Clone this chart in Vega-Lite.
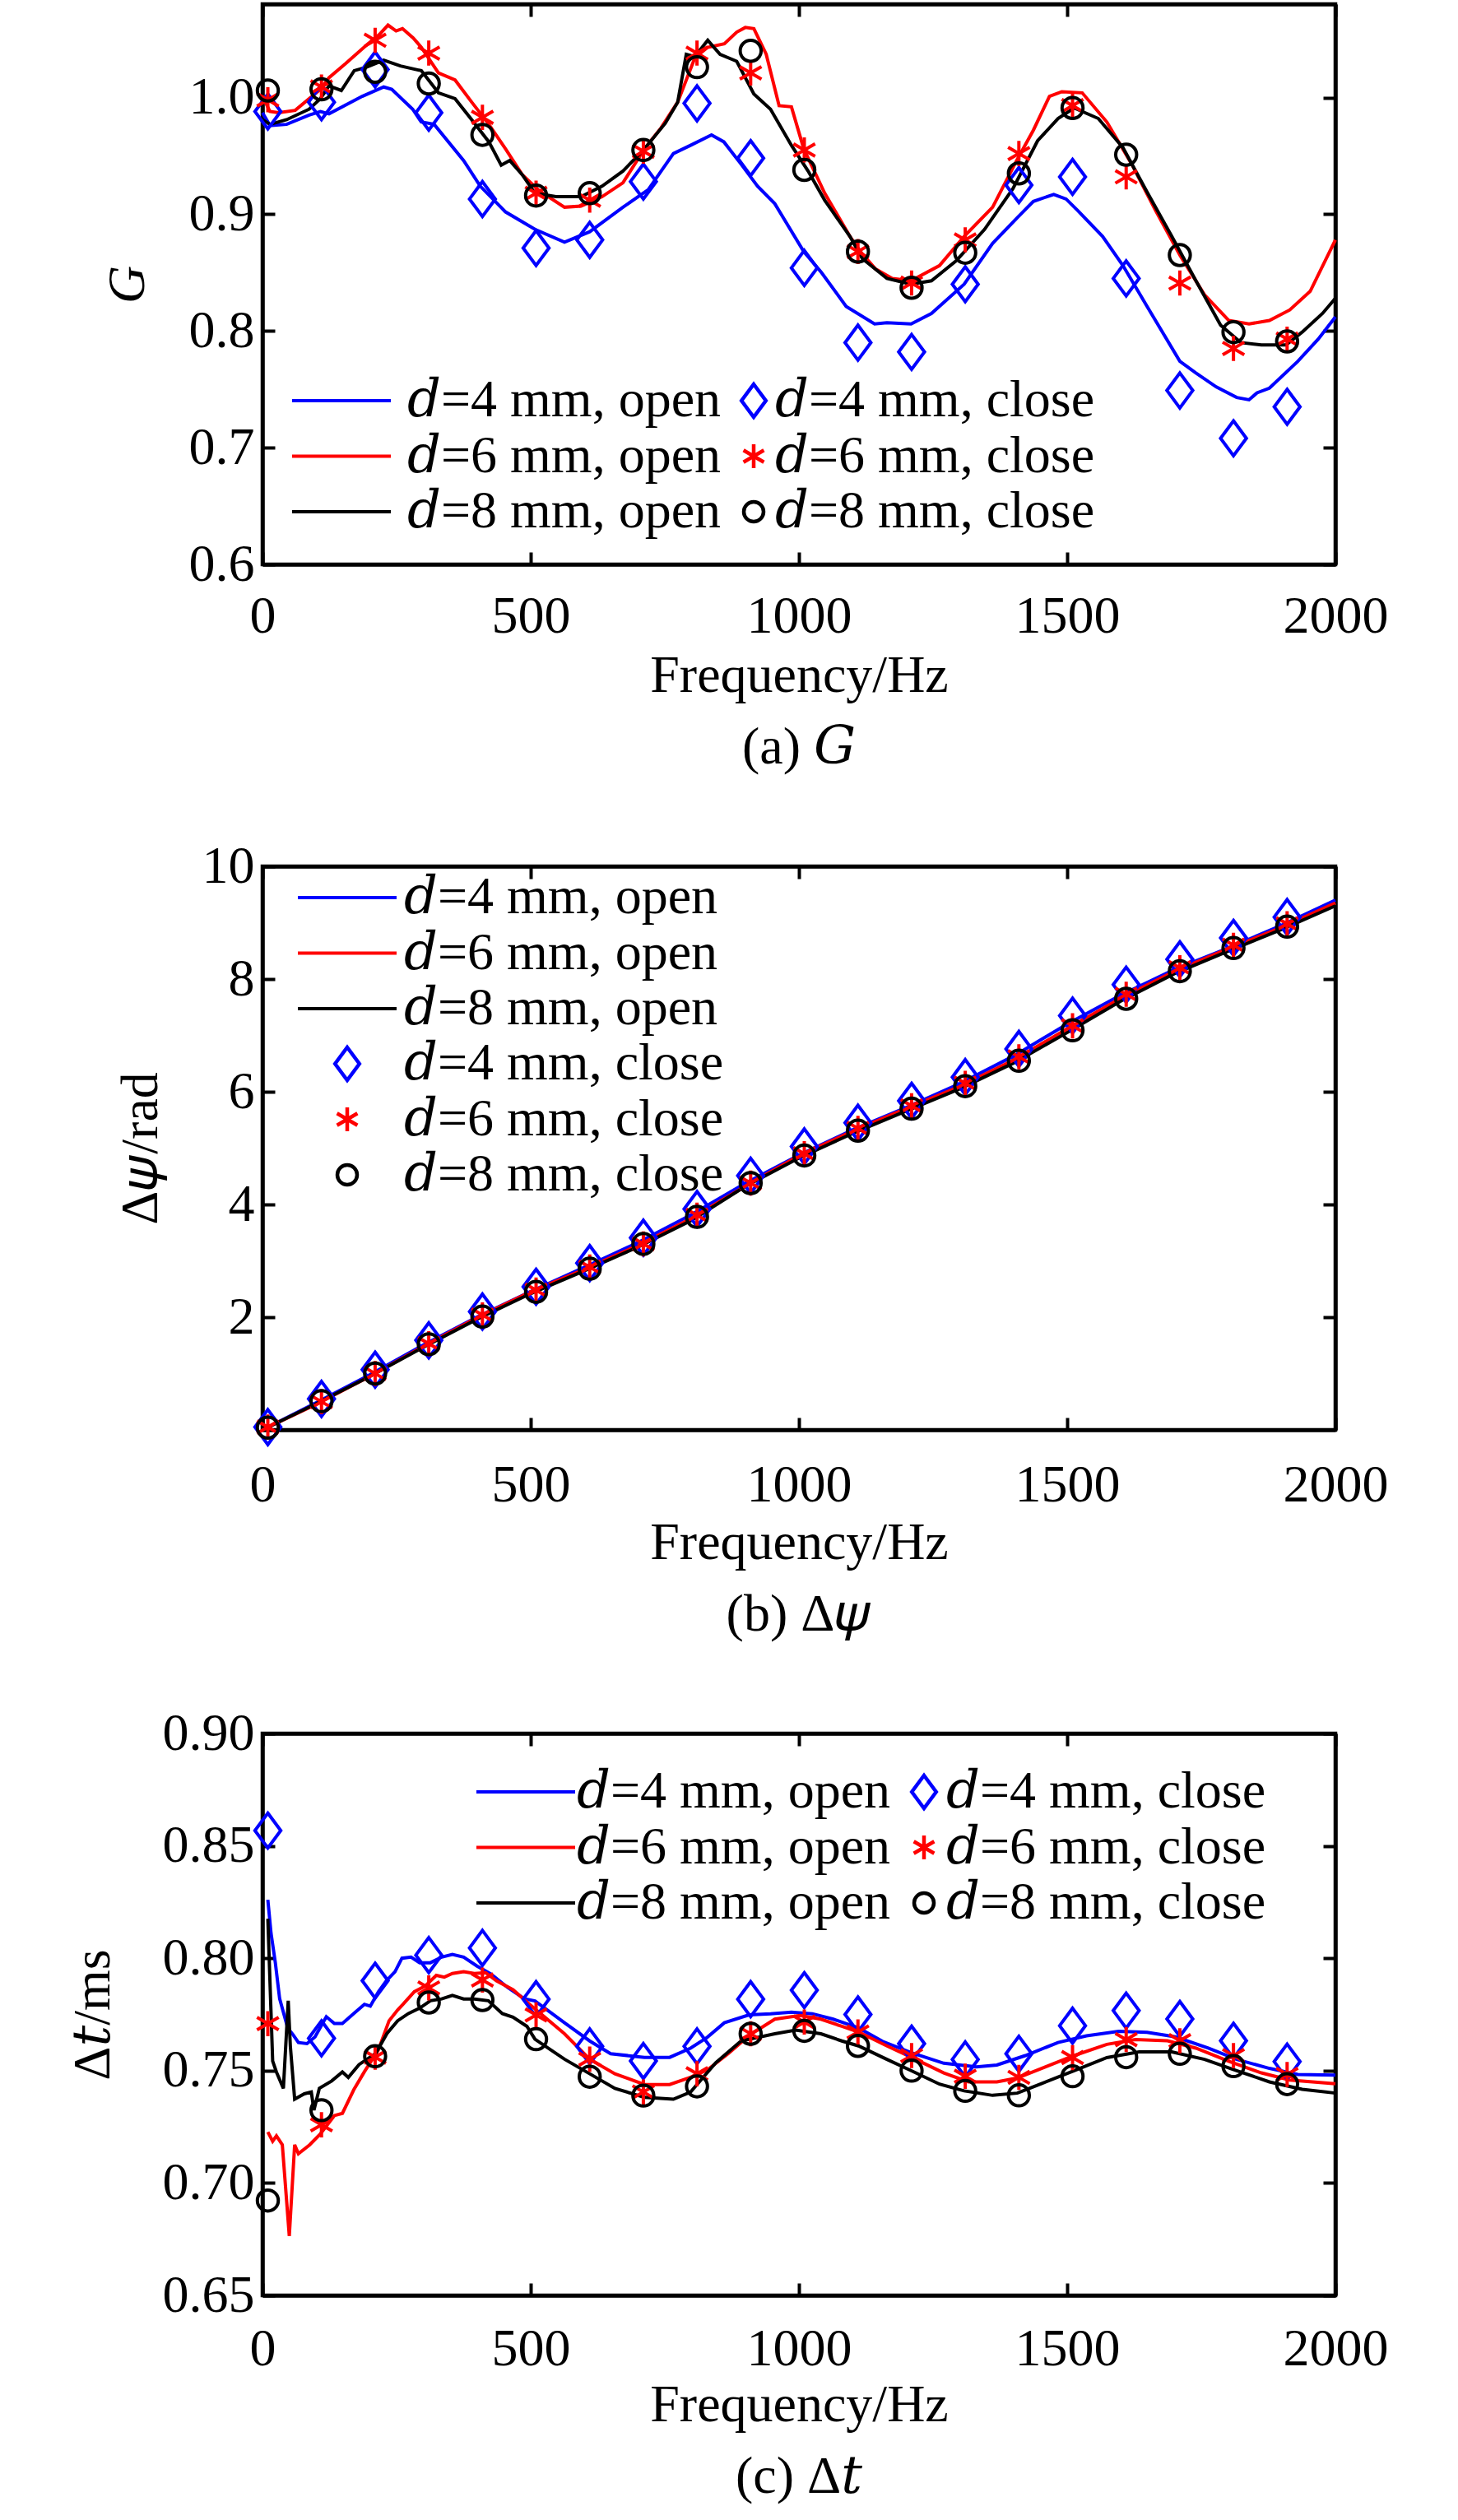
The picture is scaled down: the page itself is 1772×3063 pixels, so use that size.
{
  "$schema": "https://vega.github.io/schema/vega-lite/v6.json",
  "background": "white",
  "padding": {"left": 78, "top": 0, "right": 10, "bottom": 10},
  "config": {
    "font": "Liberation Serif, DejaVu Serif",
    "view": {"stroke": "black", "strokeWidth": 4.5},
    "axis": {
      "labelFont": "Liberation Serif, DejaVu Serif", "labelFontSize": 64, "labelColor": "black",
      "titleFont": "Liberation Serif, DejaVu Serif", "titleFontSize": 64, "titleFontWeight": "normal", "titleColor": "black",
      "domainColor": "black", "domainWidth": 4.5, "tickColor": "black", "tickWidth": 4, "tickSize": -15,
      "grid": false, "labelFlush": false, "labelOverlap": false, "labelBound": false
    },
    "legend": {
      "labelFont": "Liberation Serif, DejaVu Serif", "labelFontSize": 64, "labelColor": "black",
      "padding": 0, "rowPadding": 3.5, "orient": "none", "labelLimit": 0
    },
    "title": {"font": "Liberation Serif, DejaVu Serif", "fontSize": 64, "fontWeight": "normal", "color": "black"},
    "concat": {"spacing": 74}
  },
  "resolve": {"scale": {"stroke": "independent", "color": "independent", "shape": "independent", "strokeWidth": "independent", "y": "independent"}},
  "datasets": {
    "a_lines": [
      {"s":"4o","f":0,"v":0.987},{"s":"4o","f":14,"v":0.976},{"s":"4o","f":45,"v":0.977},{"s":"4o","f":87,"v":0.985},{"s":"4o","f":108,"v":0.988},{"s":"4o","f":124,"v":0.986},{"s":"4o","f":186,"v":1.001},{"s":"4o","f":226,"v":1.009},{"s":"4o","f":241,"v":1.007},{"s":"4o","f":280,"v":0.990},{"s":"4o","f":296,"v":0.979},{"s":"4o","f":320,"v":0.977},{"s":"4o","f":375,"v":0.946},{"s":"4o","f":406,"v":0.924},{"s":"4o","f":453,"v":0.902},{"s":"4o","f":508,"v":0.887},{"s":"4o","f":563,"v":0.876},{"s":"4o","f":610,"v":0.885},{"s":"4o","f":672,"v":0.906},{"s":"4o","f":719,"v":0.921},{"s":"4o","f":766,"v":0.952},{"s":"4o","f":798,"v":0.959},{"s":"4o","f":837,"v":0.968},{"s":"4o","f":860,"v":0.962},{"s":"4o","f":892,"v":0.943},{"s":"4o","f":923,"v":0.924},{"s":"4o","f":955,"v":0.909},{"s":"4o","f":1009,"v":0.868},{"s":"4o","f":1042,"v":0.850},{"s":"4o","f":1088,"v":0.821},{"s":"4o","f":1141,"v":0.806},{"s":"4o","f":1164,"v":0.807},{"s":"4o","f":1209,"v":0.806},{"s":"4o","f":1247,"v":0.815},{"s":"4o","f":1308,"v":0.840},{"s":"4o","f":1361,"v":0.875},{"s":"4o","f":1407,"v":0.897},{"s":"4o","f":1437,"v":0.911},{"s":"4o","f":1475,"v":0.917},{"s":"4o","f":1498,"v":0.913},{"s":"4o","f":1520,"v":0.903},{"s":"4o","f":1566,"v":0.881},{"s":"4o","f":1604,"v":0.856},{"s":"4o","f":1649,"v":0.821},{"s":"4o","f":1710,"v":0.774},{"s":"4o","f":1740,"v":0.764},{"s":"4o","f":1778,"v":0.752},{"s":"4o","f":1816,"v":0.743},{"s":"4o","f":1839,"v":0.741},{"s":"4o","f":1854,"v":0.747},{"s":"4o","f":1877,"v":0.751},{"s":"4o","f":1930,"v":0.774},{"s":"4o","f":1968,"v":0.793},{"s":"4o","f":2000,"v":0.812},
      {"s":"6o","f":0,"v":1.001},{"s":"6o","f":14,"v":0.988},{"s":"6o","f":30,"v":0.987},{"s":"6o","f":61,"v":0.989},{"s":"6o","f":108,"v":1.007},{"s":"6o","f":124,"v":1.017},{"s":"6o","f":155,"v":1.029},{"s":"6o","f":194,"v":1.045},{"s":"6o","f":218,"v":1.054},{"s":"6o","f":234,"v":1.062},{"s":"6o","f":249,"v":1.057},{"s":"6o","f":261,"v":1.059},{"s":"6o","f":281,"v":1.051},{"s":"6o","f":296,"v":1.043},{"s":"6o","f":328,"v":1.021},{"s":"6o","f":359,"v":1.015},{"s":"6o","f":390,"v":0.996},{"s":"6o","f":422,"v":0.977},{"s":"6o","f":453,"v":0.956},{"s":"6o","f":484,"v":0.934},{"s":"6o","f":516,"v":0.920},{"s":"6o","f":563,"v":0.906},{"s":"6o","f":594,"v":0.907},{"s":"6o","f":633,"v":0.915},{"s":"6o","f":672,"v":0.927},{"s":"6o","f":712,"v":0.956},{"s":"6o","f":743,"v":0.974},{"s":"6o","f":774,"v":0.996},{"s":"6o","f":806,"v":1.034},{"s":"6o","f":830,"v":1.043},{"s":"6o","f":861,"v":1.046},{"s":"6o","f":884,"v":1.056},{"s":"6o","f":900,"v":1.060},{"s":"6o","f":916,"v":1.059},{"s":"6o","f":939,"v":1.037},{"s":"6o","f":963,"v":0.993},{"s":"6o","f":986,"v":0.992},{"s":"6o","f":1009,"v":0.956},{"s":"6o","f":1048,"v":0.918},{"s":"6o","f":1095,"v":0.881},{"s":"6o","f":1118,"v":0.866},{"s":"6o","f":1143,"v":0.853},{"s":"6o","f":1174,"v":0.845},{"s":"6o","f":1209,"v":0.843},{"s":"6o","f":1262,"v":0.856},{"s":"6o","f":1308,"v":0.881},{"s":"6o","f":1361,"v":0.906},{"s":"6o","f":1407,"v":0.947},{"s":"6o","f":1437,"v":0.972},{"s":"6o","f":1467,"v":1.001},{"s":"6o","f":1490,"v":1.005},{"s":"6o","f":1528,"v":1.004},{"s":"6o","f":1574,"v":0.979},{"s":"6o","f":1619,"v":0.944},{"s":"6o","f":1665,"v":0.903},{"s":"6o","f":1710,"v":0.865},{"s":"6o","f":1756,"v":0.831},{"s":"6o","f":1801,"v":0.809},{"s":"6o","f":1839,"v":0.806},{"s":"6o","f":1877,"v":0.809},{"s":"6o","f":1915,"v":0.818},{"s":"6o","f":1953,"v":0.834},{"s":"6o","f":2000,"v":0.878},
      {"s":"8o","f":0,"v":0.981},{"s":"8o","f":14,"v":0.977},{"s":"8o","f":45,"v":0.981},{"s":"8o","f":87,"v":0.990},{"s":"8o","f":108,"v":0.999},{"s":"8o","f":124,"v":1.010},{"s":"8o","f":147,"v":1.006},{"s":"8o","f":171,"v":1.023},{"s":"8o","f":194,"v":1.026},{"s":"8o","f":226,"v":1.032},{"s":"8o","f":257,"v":1.027},{"s":"8o","f":296,"v":1.023},{"s":"8o","f":328,"v":1.004},{"s":"8o","f":359,"v":0.999},{"s":"8o","f":390,"v":0.981},{"s":"8o","f":422,"v":0.962},{"s":"8o","f":445,"v":0.942},{"s":"8o","f":461,"v":0.946},{"s":"8o","f":484,"v":0.934},{"s":"8o","f":508,"v":0.918},{"s":"8o","f":547,"v":0.915},{"s":"8o","f":594,"v":0.915},{"s":"8o","f":633,"v":0.924},{"s":"8o","f":672,"v":0.937},{"s":"8o","f":712,"v":0.956},{"s":"8o","f":751,"v":0.978},{"s":"8o","f":774,"v":0.996},{"s":"8o","f":790,"v":1.037},{"s":"8o","f":806,"v":1.035},{"s":"8o","f":830,"v":1.049},{"s":"8o","f":853,"v":1.037},{"s":"8o","f":884,"v":1.031},{"s":"8o","f":916,"v":1.003},{"s":"8o","f":947,"v":0.990},{"s":"8o","f":986,"v":0.959},{"s":"8o","f":1017,"v":0.937},{"s":"8o","f":1048,"v":0.912},{"s":"8o","f":1095,"v":0.881},{"s":"8o","f":1118,"v":0.862},{"s":"8o","f":1164,"v":0.845},{"s":"8o","f":1209,"v":0.840},{"s":"8o","f":1247,"v":0.843},{"s":"8o","f":1293,"v":0.860},{"s":"8o","f":1346,"v":0.887},{"s":"8o","f":1399,"v":0.922},{"s":"8o","f":1445,"v":0.963},{"s":"8o","f":1483,"v":0.982},{"s":"8o","f":1513,"v":0.991},{"s":"8o","f":1558,"v":0.982},{"s":"8o","f":1604,"v":0.957},{"s":"8o","f":1649,"v":0.919},{"s":"8o","f":1695,"v":0.881},{"s":"8o","f":1740,"v":0.843},{"s":"8o","f":1786,"v":0.805},{"s":"8o","f":1824,"v":0.790},{"s":"8o","f":1862,"v":0.788},{"s":"8o","f":1908,"v":0.788},{"s":"8o","f":1938,"v":0.799},{"s":"8o","f":1976,"v":0.815},{"s":"8o","f":2000,"v":0.828}
    ],
    "a_pts": [
      {"d":"4c","f":10,"v":0.988},{"d":"4c","f":110,"v":0.996},{"d":"4c","f":210,"v":1.024},{"d":"4c","f":310,"v":0.987},{"d":"4c","f":410,"v":0.913},{"d":"4c","f":510,"v":0.871},{"d":"4c","f":610,"v":0.878},{"d":"4c","f":710,"v":0.928},{"d":"4c","f":810,"v":0.995},{"d":"4c","f":910,"v":0.948},{"d":"4c","f":1010,"v":0.854},{"d":"4c","f":1110,"v":0.790},{"d":"4c","f":1210,"v":0.782},{"d":"4c","f":1310,"v":0.840},{"d":"4c","f":1410,"v":0.925},{"d":"4c","f":1510,"v":0.932},{"d":"4c","f":1610,"v":0.845},{"d":"4c","f":1710,"v":0.749},{"d":"4c","f":1810,"v":0.708},{"d":"4c","f":1910,"v":0.735},
      {"d":"6c","f":10,"v":0.998},{"d":"6c","f":110,"v":1.009},{"d":"6c","f":210,"v":1.049},{"d":"6c","f":310,"v":1.038},{"d":"6c","f":410,"v":0.983},{"d":"6c","f":510,"v":0.918},{"d":"6c","f":610,"v":0.912},{"d":"6c","f":710,"v":0.954},{"d":"6c","f":810,"v":1.038},{"d":"6c","f":910,"v":1.021},{"d":"6c","f":1010,"v":0.955},{"d":"6c","f":1110,"v":0.868},{"d":"6c","f":1210,"v":0.841},{"d":"6c","f":1310,"v":0.878},{"d":"6c","f":1410,"v":0.952},{"d":"6c","f":1510,"v":0.993},{"d":"6c","f":1610,"v":0.932},{"d":"6c","f":1710,"v":0.841},{"d":"6c","f":1810,"v":0.785},{"d":"6c","f":1910,"v":0.793},
      {"d":"8c","f":10,"v":1.006},{"d":"8c","f":110,"v":1.007},{"d":"8c","f":210,"v":1.022},{"d":"8c","f":310,"v":1.012},{"d":"8c","f":410,"v":0.968},{"d":"8c","f":510,"v":0.916},{"d":"8c","f":610,"v":0.918},{"d":"8c","f":710,"v":0.955},{"d":"8c","f":810,"v":1.026},{"d":"8c","f":910,"v":1.040},{"d":"8c","f":1010,"v":0.938},{"d":"8c","f":1110,"v":0.868},{"d":"8c","f":1210,"v":0.837},{"d":"8c","f":1310,"v":0.867},{"d":"8c","f":1410,"v":0.935},{"d":"8c","f":1510,"v":0.991},{"d":"8c","f":1610,"v":0.951},{"d":"8c","f":1710,"v":0.865},{"d":"8c","f":1810,"v":0.799},{"d":"8c","f":1910,"v":0.791}
    ],
    "b_lines": [
      {"s":"4o","f":0,"v":0},{"s":"4o","f":100,"v":0.481},{"s":"4o","f":200,"v":0.978},{"s":"4o","f":300,"v":1.506},{"s":"4o","f":400,"v":2.003},{"s":"4o","f":500,"v":2.457},{"s":"4o","f":600,"v":2.884},{"s":"4o","f":700,"v":3.325},{"s":"4o","f":800,"v":3.820},{"s":"4o","f":900,"v":4.377},{"s":"4o","f":1000,"v":4.876},{"s":"4o","f":1100,"v":5.322},{"s":"4o","f":1200,"v":5.723},{"s":"4o","f":1300,"v":6.146},{"s":"4o","f":1400,"v":6.633},{"s":"4o","f":1500,"v":7.200},{"s":"4o","f":1600,"v":7.716},{"s":"4o","f":1700,"v":8.171},{"s":"4o","f":1800,"v":8.550},{"s":"4o","f":1900,"v":8.954},{"s":"4o","f":2000,"v":9.400},
      {"s":"6o","f":0,"v":0},{"s":"6o","f":100,"v":0.454},{"s":"6o","f":200,"v":0.949},{"s":"6o","f":300,"v":1.483},{"s":"6o","f":400,"v":1.993},{"s":"6o","f":500,"v":2.450},{"s":"6o","f":600,"v":2.850},{"s":"6o","f":700,"v":3.272},{"s":"6o","f":800,"v":3.755},{"s":"6o","f":900,"v":4.326},{"s":"6o","f":1000,"v":4.866},{"s":"6o","f":1100,"v":5.301},{"s":"6o","f":1200,"v":5.704},{"s":"6o","f":1300,"v":6.093},{"s":"6o","f":1400,"v":6.562},{"s":"6o","f":1500,"v":7.116},{"s":"6o","f":1600,"v":7.661},{"s":"6o","f":1700,"v":8.139},{"s":"6o","f":1800,"v":8.539},{"s":"6o","f":1900,"v":8.918},{"s":"6o","f":2000,"v":9.349},
      {"s":"8o","f":0,"v":0},{"s":"8o","f":100,"v":0.463},{"s":"8o","f":200,"v":0.950},{"s":"8o","f":300,"v":1.468},{"s":"8o","f":400,"v":1.965},{"s":"8o","f":500,"v":2.419},{"s":"8o","f":600,"v":2.822},{"s":"8o","f":700,"v":3.246},{"s":"8o","f":800,"v":3.720},{"s":"8o","f":900,"v":4.320},{"s":"8o","f":1000,"v":4.825},{"s":"8o","f":1100,"v":5.260},{"s":"8o","f":1200,"v":5.659},{"s":"8o","f":1300,"v":6.053},{"s":"8o","f":1400,"v":6.509},{"s":"8o","f":1500,"v":7.050},{"s":"8o","f":1600,"v":7.610},{"s":"8o","f":1700,"v":8.096},{"s":"8o","f":1800,"v":8.494},{"s":"8o","f":1900,"v":8.882},{"s":"8o","f":2000,"v":9.299}
    ],
    "b_pts": [
      {"d":"4c","f":10,"v":0.05},{"d":"4c","f":110,"v":0.55},{"d":"4c","f":210,"v":1.07},{"d":"4c","f":310,"v":1.59},{"d":"4c","f":410,"v":2.10},{"d":"4c","f":510,"v":2.54},{"d":"4c","f":610,"v":2.96},{"d":"4c","f":710,"v":3.41},{"d":"4c","f":810,"v":3.92},{"d":"4c","f":910,"v":4.51},{"d":"4c","f":1010,"v":5.03},{"d":"4c","f":1110,"v":5.45},{"d":"4c","f":1210,"v":5.84},{"d":"4c","f":1310,"v":6.26},{"d":"4c","f":1410,"v":6.76},{"d":"4c","f":1510,"v":7.35},{"d":"4c","f":1610,"v":7.90},{"d":"4c","f":1710,"v":8.35},{"d":"4c","f":1810,"v":8.73},{"d":"4c","f":1910,"v":9.10},
      {"d":"6c","f":10,"v":0.05},{"d":"6c","f":110,"v":0.50},{"d":"6c","f":210,"v":1.00},{"d":"6c","f":310,"v":1.53},{"d":"6c","f":410,"v":2.04},{"d":"6c","f":510,"v":2.48},{"d":"6c","f":610,"v":2.89},{"d":"6c","f":710,"v":3.30},{"d":"6c","f":810,"v":3.81},{"d":"6c","f":910,"v":4.38},{"d":"6c","f":1010,"v":4.90},{"d":"6c","f":1110,"v":5.35},{"d":"6c","f":1210,"v":5.75},{"d":"6c","f":1310,"v":6.15},{"d":"6c","f":1410,"v":6.62},{"d":"6c","f":1510,"v":7.17},{"d":"6c","f":1610,"v":7.73},{"d":"6c","f":1710,"v":8.20},{"d":"6c","f":1810,"v":8.60},{"d":"6c","f":1910,"v":8.98},
      {"d":"8c","f":10,"v":0.04},{"d":"8c","f":110,"v":0.51},{"d":"8c","f":210,"v":1.00},{"d":"8c","f":310,"v":1.52},{"d":"8c","f":410,"v":2.01},{"d":"8c","f":510,"v":2.45},{"d":"8c","f":610,"v":2.86},{"d":"8c","f":710,"v":3.30},{"d":"8c","f":810,"v":3.78},{"d":"8c","f":910,"v":4.38},{"d":"8c","f":1010,"v":4.87},{"d":"8c","f":1110,"v":5.31},{"d":"8c","f":1210,"v":5.70},{"d":"8c","f":1310,"v":6.10},{"d":"8c","f":1410,"v":6.55},{"d":"8c","f":1510,"v":7.09},{"d":"8c","f":1610,"v":7.65},{"d":"8c","f":1710,"v":8.14},{"d":"8c","f":1810,"v":8.55},{"d":"8c","f":1910,"v":8.93}
    ],
    "c_lines": [
      {"s":"4o","f":10,"v":0.826},{"s":"4o","f":16,"v":0.811},{"s":"4o","f":24,"v":0.798},{"s":"4o","f":32,"v":0.782},{"s":"4o","f":47,"v":0.769},{"s":"4o","f":57,"v":0.766},{"s":"4o","f":67,"v":0.7625},{"s":"4o","f":83,"v":0.762},{"s":"4o","f":98,"v":0.765},{"s":"4o","f":119,"v":0.774},{"s":"4o","f":134,"v":0.771},{"s":"4o","f":149,"v":0.771},{"s":"4o","f":170,"v":0.7754},{"s":"4o","f":190,"v":0.7795},{"s":"4o","f":201,"v":0.7787},{"s":"4o","f":216,"v":0.785},{"s":"4o","f":231,"v":0.790},{"s":"4o","f":247,"v":0.794},{"s":"4o","f":260,"v":0.800},{"s":"4o","f":277,"v":0.8005},{"s":"4o","f":293,"v":0.798},{"s":"4o","f":313,"v":0.798},{"s":"4o","f":334,"v":0.8005},{"s":"4o","f":354,"v":0.8017},{"s":"4o","f":375,"v":0.8005},{"s":"4o","f":400,"v":0.7965},{"s":"4o","f":426,"v":0.793},{"s":"4o","f":457,"v":0.787},{"s":"4o","f":488,"v":0.782},{"s":"4o","f":508,"v":0.781},{"s":"4o","f":563,"v":0.7713},{"s":"4o","f":610,"v":0.7632},{"s":"4o","f":649,"v":0.7575},{"s":"4o","f":712,"v":0.7559},{"s":"4o","f":759,"v":0.7559},{"s":"4o","f":798,"v":0.760},{"s":"4o","f":829,"v":0.7648},{"s":"4o","f":861,"v":0.7713},{"s":"4o","f":907,"v":0.7748},{"s":"4o","f":947,"v":0.7753},{"s":"4o","f":986,"v":0.776},{"s":"4o","f":1025,"v":0.7753},{"s":"4o","f":1064,"v":0.7729},{"s":"4o","f":1111,"v":0.769},{"s":"4o","f":1156,"v":0.763},{"s":"4o","f":1209,"v":0.758},{"s":"4o","f":1270,"v":0.7533},{"s":"4o","f":1331,"v":0.7517},{"s":"4o","f":1369,"v":0.7525},{"s":"4o","f":1422,"v":0.7567},{"s":"4o","f":1483,"v":0.7625},{"s":"4o","f":1536,"v":0.7655},{"s":"4o","f":1596,"v":0.7675},{"s":"4o","f":1649,"v":0.767},{"s":"4o","f":1702,"v":0.765},{"s":"4o","f":1763,"v":0.760},{"s":"4o","f":1816,"v":0.755},{"s":"4o","f":1877,"v":0.751},{"s":"4o","f":1930,"v":0.7483},{"s":"4o","f":2000,"v":0.748},
      {"s":"6o","f":10,"v":0.7227},{"s":"6o","f":19,"v":0.7186},{"s":"6o","f":26,"v":0.721},{"s":"6o","f":37,"v":0.717},{"s":"6o","f":50,"v":0.6764},{"s":"6o","f":60,"v":0.717},{"s":"6o","f":67,"v":0.713},{"s":"6o","f":88,"v":0.717},{"s":"6o","f":108,"v":0.7219},{"s":"6o","f":134,"v":0.730},{"s":"6o","f":149,"v":0.731},{"s":"6o","f":170,"v":0.7414},{"s":"6o","f":190,"v":0.7495},{"s":"6o","f":216,"v":0.7592},{"s":"6o","f":236,"v":0.7722},{"s":"6o","f":252,"v":0.777},{"s":"6o","f":262,"v":0.7795},{"s":"6o","f":283,"v":0.7851},{"s":"6o","f":303,"v":0.7876},{"s":"6o","f":324,"v":0.7924},{"s":"6o","f":339,"v":0.7916},{"s":"6o","f":354,"v":0.7932},{"s":"6o","f":375,"v":0.794},{"s":"6o","f":395,"v":0.7932},{"s":"6o","f":416,"v":0.7936},{"s":"6o","f":436,"v":0.790},{"s":"6o","f":467,"v":0.786},{"s":"6o","f":498,"v":0.7795},{"s":"6o","f":563,"v":0.7664},{"s":"6o","f":610,"v":0.7551},{"s":"6o","f":657,"v":0.7486},{"s":"6o","f":712,"v":0.7438},{"s":"6o","f":759,"v":0.7438},{"s":"6o","f":798,"v":0.747},{"s":"6o","f":829,"v":0.7503},{"s":"6o","f":868,"v":0.7575},{"s":"6o","f":907,"v":0.7656},{"s":"6o","f":955,"v":0.7729},{"s":"6o","f":1002,"v":0.7745},{"s":"6o","f":1041,"v":0.7729},{"s":"6o","f":1080,"v":0.7697},{"s":"6o","f":1111,"v":0.7672},{"s":"6o","f":1164,"v":0.761},{"s":"6o","f":1209,"v":0.756},{"s":"6o","f":1270,"v":0.749},{"s":"6o","f":1316,"v":0.745},{"s":"6o","f":1369,"v":0.745},{"s":"6o","f":1407,"v":0.7467},{"s":"6o","f":1460,"v":0.7517},{"s":"6o","f":1513,"v":0.7567},{"s":"6o","f":1574,"v":0.7617},{"s":"6o","f":1627,"v":0.7638},{"s":"6o","f":1687,"v":0.7633},{"s":"6o","f":1740,"v":0.760},{"s":"6o","f":1801,"v":0.7542},{"s":"6o","f":1862,"v":0.749},{"s":"6o","f":1915,"v":0.7458},{"s":"6o","f":2000,"v":0.7442},
      {"s":"8o","f":10,"v":0.8176},{"s":"8o","f":16,"v":0.7754},{"s":"8o","f":19,"v":0.7543},{"s":"8o","f":26,"v":0.7494},{"s":"8o","f":39,"v":0.7421},{"s":"8o","f":48,"v":0.7811},{"s":"8o","f":52,"v":0.7608},{"s":"8o","f":60,"v":0.7373},{"s":"8o","f":78,"v":0.7397},{"s":"8o","f":91,"v":0.7405},{"s":"8o","f":96,"v":0.7324},{"s":"8o","f":106,"v":0.7421},{"s":"8o","f":129,"v":0.7454},{"s":"8o","f":149,"v":0.7494},{"s":"8o","f":160,"v":0.747},{"s":"8o","f":180,"v":0.7527},{"s":"8o","f":211,"v":0.7576},{"s":"8o","f":232,"v":0.7665},{"s":"8o","f":252,"v":0.7722},{"s":"8o","f":272,"v":0.7754},{"s":"8o","f":293,"v":0.7778},{"s":"8o","f":313,"v":0.7811},{"s":"8o","f":334,"v":0.7819},{"s":"8o","f":354,"v":0.7835},{"s":"8o","f":375,"v":0.7819},{"s":"8o","f":395,"v":0.7819},{"s":"8o","f":421,"v":0.7811},{"s":"8o","f":447,"v":0.7754},{"s":"8o","f":467,"v":0.7738},{"s":"8o","f":493,"v":0.7697},{"s":"8o","f":508,"v":0.764},{"s":"8o","f":563,"v":0.7551},{"s":"8o","f":610,"v":0.7486},{"s":"8o","f":657,"v":0.7421},{"s":"8o","f":712,"v":0.7381},{"s":"8o","f":766,"v":0.7373},{"s":"8o","f":798,"v":0.7405},{"s":"8o","f":845,"v":0.7535},{"s":"8o","f":892,"v":0.7632},{"s":"8o","f":955,"v":0.7664},{"s":"8o","f":994,"v":0.768},{"s":"8o","f":1041,"v":0.7664},{"s":"8o","f":1080,"v":0.7632},{"s":"8o","f":1111,"v":0.761},{"s":"8o","f":1164,"v":0.755},{"s":"8o","f":1209,"v":0.750},{"s":"8o","f":1262,"v":0.744},{"s":"8o","f":1308,"v":0.741},{"s":"8o","f":1361,"v":0.739},{"s":"8o","f":1407,"v":0.740},{"s":"8o","f":1452,"v":0.7442},{"s":"8o","f":1513,"v":0.750},{"s":"8o","f":1574,"v":0.7558},{"s":"8o","f":1634,"v":0.7583},{"s":"8o","f":1695,"v":0.7583},{"s":"8o","f":1756,"v":0.755},{"s":"8o","f":1816,"v":0.750},{"s":"8o","f":1877,"v":0.745},{"s":"8o","f":1938,"v":0.7417},{"s":"8o","f":2000,"v":0.740}
    ],
    "c_pts": [
      {"d":"4c","f":10,"v":0.8568},{"d":"4c","f":110,"v":0.7644},{"d":"4c","f":210,"v":0.790},{"d":"4c","f":310,"v":0.8014},{"d":"4c","f":410,"v":0.8046},{"d":"4c","f":510,"v":0.7818},{"d":"4c","f":610,"v":0.7608},{"d":"4c","f":710,"v":0.7543},{"d":"4c","f":810,"v":0.7608},{"d":"4c","f":910,"v":0.7818},{"d":"4c","f":1010,"v":0.7858},{"d":"4c","f":1110,"v":0.775},{"d":"4c","f":1210,"v":0.762},{"d":"4c","f":1310,"v":0.755},{"d":"4c","f":1410,"v":0.7575},{"d":"4c","f":1510,"v":0.770},{"d":"4c","f":1610,"v":0.7767},{"d":"4c","f":1710,"v":0.773},{"d":"4c","f":1810,"v":0.7633},{"d":"4c","f":1910,"v":0.754},
      {"d":"6c","f":10,"v":0.7709},{"d":"6c","f":110,"v":0.7259},{"d":"6c","f":210,"v":0.756},{"d":"6c","f":310,"v":0.7868},{"d":"6c","f":410,"v":0.7903},{"d":"6c","f":510,"v":0.7748},{"d":"6c","f":610,"v":0.7551},{"d":"6c","f":710,"v":0.7405},{"d":"6c","f":810,"v":0.7486},{"d":"6c","f":910,"v":0.7664},{"d":"6c","f":1010,"v":0.7716},{"d":"6c","f":1110,"v":0.7672},{"d":"6c","f":1210,"v":0.7567},{"d":"6c","f":1310,"v":0.7475},{"d":"6c","f":1410,"v":0.747},{"d":"6c","f":1510,"v":0.7558},{"d":"6c","f":1610,"v":0.7638},{"d":"6c","f":1710,"v":0.7633},{"d":"6c","f":1810,"v":0.7567},{"d":"6c","f":1910,"v":0.7483},
      {"d":"8c","f":10,"v":0.6922},{"d":"8c","f":110,"v":0.7324},{"d":"8c","f":210,"v":0.7564},{"d":"8c","f":310,"v":0.7803},{"d":"8c","f":410,"v":0.7814},{"d":"8c","f":510,"v":0.764},{"d":"8c","f":610,"v":0.7473},{"d":"8c","f":710,"v":0.7389},{"d":"8c","f":810,"v":0.743},{"d":"8c","f":910,"v":0.7664},{"d":"8c","f":1010,"v":0.7677},{"d":"8c","f":1110,"v":0.761},{"d":"8c","f":1210,"v":0.750},{"d":"8c","f":1310,"v":0.741},{"d":"8c","f":1410,"v":0.739},{"d":"8c","f":1510,"v":0.7475},{"d":"8c","f":1610,"v":0.756},{"d":"8c","f":1710,"v":0.7575},{"d":"8c","f":1810,"v":0.752},{"d":"8c","f":1910,"v":0.744}
    ]
  },
  "vconcat": [
    {
      "width": 1304, "height": 681,
      "title": {"text": "(a) 𝐺", "orient": "bottom", "offset": 24},
      "resolve": {"axis": {"x": "independent", "y": "independent"}},
      "layer": [
        {
          "data": {"name": "a_lines"},
          "mark": {"type": "line"},
          "encoding": {
            "x": {"field": "f", "type": "quantitative", "scale": {"domain": [0, 2000]}, "axis": {"orient": "bottom", "values": [0, 500, 1000, 1500, 2000], "format": "d", "title": "Frequency/Hz", "labelPadding": 46, "titlePadding": 8}},
            "y": {"field": "v", "type": "quantitative", "scale": {"domain": [0.6, 1.08]}, "axis": {"orient": "left", "values": [0.6, 0.7, 0.8, 0.9, 1.0], "format": ".1f", "title": "G", "titleFontStyle": "italic", "labelPadding": 25, "titlePadding": 42}},
            "stroke": {"field": "s", "type": "nominal", "scale": {"domain": ["4o", "6o", "8o"], "range": ["#0000ff", "#ff0000", "#000000"]}, "legend": {"title": null, "legendX": 64, "legendY": 450, "symbolType": "M-3,0H3", "symbolSize": 1600, "symbolStrokeWidth": 4, "labelOffset": 48, "labelExpr": "'𝑑=' + substring(datum.label, 0, 1) + ' mm, open'"}},
            "strokeWidth": {"field": "s", "type": "nominal", "scale": {"domain": ["4o", "6o", "8o"], "range": [4, 4, 3]}, "legend": null}
          }
        },
        {
          "data": {"name": "a_pts"},
          "mark": {"type": "point", "filled": false, "size": 1800, "opacity": 1},
          "encoding": {
            "x": {"field": "f", "type": "quantitative", "scale": {"domain": [0, 2000]}, "axis": {"orient": "top", "values": [0, 500, 1000, 1500, 2000], "labels": false, "title": null}},
            "y": {"field": "v", "type": "quantitative", "scale": {"domain": [0.6, 1.08]}, "axis": {"orient": "right", "values": [0.6, 0.7, 0.8, 0.9, 1.0], "labels": false, "title": null}},
            "color": {"field": "d", "type": "nominal", "scale": {"domain": ["4c", "6c", "8c"], "range": ["#0000ff", "#ff0000", "#000000"]}, "legend": {"title": null, "legendX": 565, "legendY": 450, "symbolSize": 1600, "symbolStrokeWidth": 4.5, "labelOffset": -6, "labelExpr": "'𝑑=' + substring(datum.label, 0, 1) + ' mm, close'"}},
            "shape": {"field": "d", "type": "nominal", "scale": {"domain": ["4c", "6c", "8c"], "range": ["M0,-1L0.74,0L0,1L-0.74,0Z", "M0,-0.72L0,0.72M-0.62,-0.36L0.62,0.36M-0.62,0.36L0.62,-0.36", "M0.6,0A0.6,0.6,0,1,1,-0.6,0A0.6,0.6,0,1,1,0.6,0Z"]}, "legend": {"title": null, "legendX": 565, "legendY": 450, "symbolSize": 1600, "symbolStrokeWidth": 4.5, "labelOffset": -6, "labelExpr": "'𝑑=' + substring(datum.label, 0, 1) + ' mm, close'"}},
            "strokeWidth": {"field": "d", "type": "nominal", "scale": {"domain": ["4c", "6c", "8c"], "range": [4, 4.5, 6.5]}, "legend": null}
          }
        }
      ]
    },
    {
      "width": 1304, "height": 685,
      "title": {"text": "(b) Δ𝜓", "orient": "bottom", "offset": 24},
      "resolve": {"axis": {"x": "independent", "y": "independent"}},
      "layer": [
        {
          "data": {"name": "b_lines"},
          "mark": {"type": "line"},
          "encoding": {
            "x": {"field": "f", "type": "quantitative", "scale": {"domain": [0, 2000]}, "axis": {"orient": "bottom", "values": [0, 500, 1000, 1500, 2000], "format": "d", "title": "Frequency/Hz", "labelPadding": 50, "titlePadding": 6}},
            "y": {"field": "v", "type": "quantitative", "scale": {"domain": [0, 10]}, "axis": {"orient": "left", "values": [2, 4, 6, 8, 10], "title": "Δ𝜓/rad", "labelPadding": 25, "titlePadding": 42}},
            "stroke": {"field": "s", "type": "nominal", "scale": {"domain": ["4o", "6o", "8o"], "range": ["#0000ff", "#ff0000", "#000000"]}, "legend": {"title": null, "legendX": 71, "legendY": 6, "symbolType": "M-3,0H3", "symbolSize": 1600, "symbolStrokeWidth": 4, "labelOffset": 37, "labelExpr": "'𝑑=' + substring(datum.label, 0, 1) + ' mm, open'"}},
            "strokeWidth": {"field": "s", "type": "nominal", "scale": {"domain": ["4o", "6o", "8o"], "range": [4, 4, 3]}, "legend": null}
          }
        },
        {
          "data": {"name": "b_pts"},
          "mark": {"type": "point", "filled": false, "size": 1800, "opacity": 1},
          "encoding": {
            "x": {"field": "f", "type": "quantitative", "scale": {"domain": [0, 2000]}, "axis": {"orient": "top", "values": [0, 500, 1000, 1500, 2000], "labels": false, "title": null}},
            "y": {"field": "v", "type": "quantitative", "scale": {"domain": [0, 10]}, "axis": {"orient": "right", "values": [2, 4, 6, 8, 10], "labels": false, "title": null}},
            "color": {"field": "d", "type": "nominal", "scale": {"domain": ["4c", "6c", "8c"], "range": ["#0000ff", "#ff0000", "#000000"]}, "legend": {"title": null, "legendX": 71, "legendY": 208, "symbolSize": 1600, "symbolStrokeWidth": 4.5, "labelOffset": 37, "labelExpr": "'𝑑=' + substring(datum.label, 0, 1) + ' mm, close'"}},
            "shape": {"field": "d", "type": "nominal", "scale": {"domain": ["4c", "6c", "8c"], "range": ["M0,-1L0.74,0L0,1L-0.74,0Z", "M0,-0.72L0,0.72M-0.62,-0.36L0.62,0.36M-0.62,0.36L0.62,-0.36", "M0.6,0A0.6,0.6,0,1,1,-0.6,0A0.6,0.6,0,1,1,0.6,0Z"]}, "legend": {"title": null, "legendX": 71, "legendY": 208, "symbolSize": 1600, "symbolStrokeWidth": 4.5, "labelOffset": 37, "labelExpr": "'𝑑=' + substring(datum.label, 0, 1) + ' mm, close'"}},
            "strokeWidth": {"field": "d", "type": "nominal", "scale": {"domain": ["4c", "6c", "8c"], "range": [4, 4.5, 6.5]}, "legend": null}
          }
        }
      ]
    },
    {
      "width": 1304, "height": 683,
      "title": {"text": "(c) Δ𝑡", "orient": "bottom", "offset": 24},
      "resolve": {"axis": {"x": "independent", "y": "independent"}},
      "layer": [
        {
          "data": {"name": "c_lines"},
          "mark": {"type": "line"},
          "encoding": {
            "x": {"field": "f", "type": "quantitative", "scale": {"domain": [0, 2000]}, "axis": {"orient": "bottom", "values": [0, 500, 1000, 1500, 2000], "format": "d", "title": "Frequency/Hz", "labelPadding": 48, "titlePadding": 4}},
            "y": {"field": "v", "type": "quantitative", "scale": {"domain": [0.65, 0.9]}, "axis": {"orient": "left", "values": [0.65, 0.7, 0.75, 0.8, 0.85, 0.9], "format": ".2f", "title": "Δ𝑡/ms", "labelPadding": 25, "titlePadding": 52}},
            "stroke": {"field": "s", "type": "nominal", "scale": {"domain": ["4o", "6o", "8o"], "range": ["#0000ff", "#ff0000", "#000000"]}, "legend": {"title": null, "legendX": 288, "legendY": 39, "symbolType": "M-3,0H3", "symbolSize": 1600, "symbolStrokeWidth": 4, "labelOffset": 30, "labelExpr": "'𝑑=' + substring(datum.label, 0, 1) + ' mm, open'"}},
            "strokeWidth": {"field": "s", "type": "nominal", "scale": {"domain": ["4o", "6o", "8o"], "range": [4, 4, 3]}, "legend": null}
          }
        },
        {
          "data": {"name": "c_pts"},
          "mark": {"type": "point", "filled": false, "size": 1800, "opacity": 1},
          "encoding": {
            "x": {"field": "f", "type": "quantitative", "scale": {"domain": [0, 2000]}, "axis": {"orient": "top", "values": [0, 500, 1000, 1500, 2000], "labels": false, "title": null}},
            "y": {"field": "v", "type": "quantitative", "scale": {"domain": [0.65, 0.9]}, "axis": {"orient": "right", "values": [0.65, 0.7, 0.75, 0.8, 0.85, 0.9], "labels": false, "title": null}},
            "color": {"field": "d", "type": "nominal", "scale": {"domain": ["4c", "6c", "8c"], "range": ["#0000ff", "#ff0000", "#000000"]}, "legend": {"title": null, "legendX": 772, "legendY": 39, "symbolSize": 1600, "symbolStrokeWidth": 4.5, "labelOffset": -5, "labelExpr": "'𝑑=' + substring(datum.label, 0, 1) + ' mm, close'"}},
            "shape": {"field": "d", "type": "nominal", "scale": {"domain": ["4c", "6c", "8c"], "range": ["M0,-1L0.74,0L0,1L-0.74,0Z", "M0,-0.72L0,0.72M-0.62,-0.36L0.62,0.36M-0.62,0.36L0.62,-0.36", "M0.6,0A0.6,0.6,0,1,1,-0.6,0A0.6,0.6,0,1,1,0.6,0Z"]}, "legend": {"title": null, "legendX": 772, "legendY": 39, "symbolSize": 1600, "symbolStrokeWidth": 4.5, "labelOffset": -5, "labelExpr": "'𝑑=' + substring(datum.label, 0, 1) + ' mm, close'"}},
            "strokeWidth": {"field": "d", "type": "nominal", "scale": {"domain": ["4c", "6c", "8c"], "range": [4, 4.5, 6.5]}, "legend": null}
          }
        }
      ]
    }
  ]
}
